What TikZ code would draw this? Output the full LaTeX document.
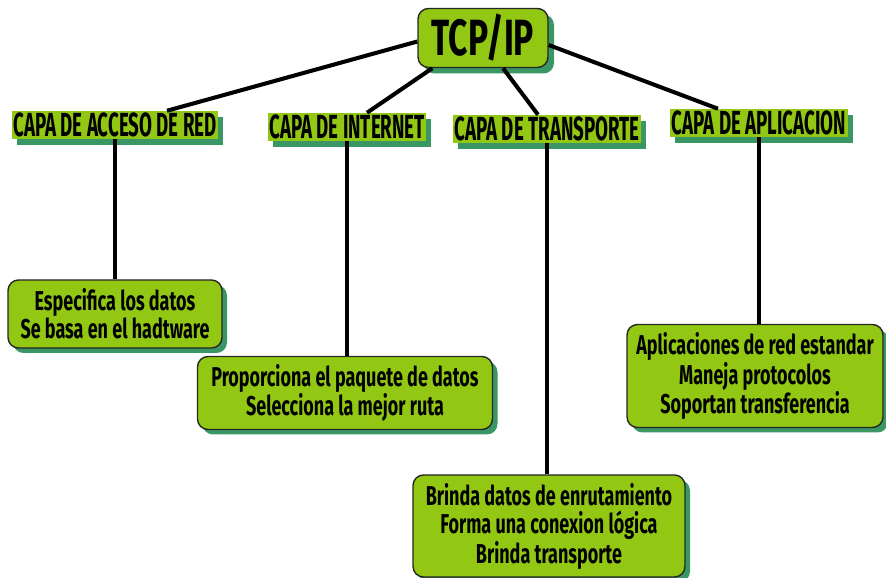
\documentclass[tikz,border=0pt]{standalone}
\usepackage{fontspec}
\setmainfont{Fira Sans}[FakeStretch=0.66]
\newfontfamily\layerfont{Fira Sans}[FakeStretch=0.56]
\usetikzlibrary{shadows}

\definecolor{lime}{RGB}{146,200,20}
\definecolor{shadowgreen}{RGB}{58,150,100}

\begin{document}
\begin{tikzpicture}[
        root/.style={draw=black!85,thick,rounded corners=6pt,fill=lime,minimum width=26mm,minimum height=10mm,
            font=\fontsize{29}{30}\selectfont\bfseries,drop shadow={fill=shadowgreen,opacity=1,shadow xshift=1.2mm,shadow yshift=-1.2mm}},
        layer/.style={fill=lime,inner sep=1pt,minimum height=4mm,font=\layerfont\fontsize{19}{20}\selectfont\bfseries,
            drop shadow={fill=shadowgreen,opacity=1,shadow xshift=1mm,shadow yshift=-1.2mm}},
        duty/.style={draw=black!85,thick,rounded corners=6pt,fill=lime,align=center,
            font=\fontsize{15.5}{16}\selectfont\bfseries,drop shadow={fill=shadowgreen,opacity=1,shadow xshift=1mm,shadow yshift=-1mm}},
        link/.style={line width=2.3pt}
    ]

    \useasboundingbox (0,0) rectangle (17.72,-11.56);

    \node[root] (tcp) at (9.66,-0.76) {TCP/IP};

    \node[layer] (acceso) at (2.30,-2.50) {CAPA DE ACCESO DE RED};
    \node[layer] (internet) at (6.94,-2.54) {CAPA DE INTERNET};
    \node[layer] (transporte) at (10.94,-2.58) {CAPA DE TRANSPORTE};
    \node[layer] (aplicacion) at (15.18,-2.46) {CAPA DE APLICACION};

    \node[duty,minimum width=42.8mm,minimum height=13.6mm] (datos) at (2.30,-6.28)
        {Especifica los datos\\Se basa en el hadtware};
    \node[duty,minimum width=59mm,minimum height=14.6mm] (paquete) at (6.90,-7.86)
        {Proporciona el paquete de datos\\Selecciona la mejor ruta};
    \node[duty,minimum width=51.2mm,minimum height=20.6mm] (red) at (15.10,-7.52)
        {Aplicaciones de red estandar\\Maneja protocolos\\Soportan transferencia};
    \node[duty,minimum width=54.4mm,minimum height=20.4mm] (ruta) at (10.98,-10.52)
        {Brinda datos de enrutamiento\\Forma una conexion lógica\\Brinda transporte};

    \draw[link] ([yshift=-2pt]tcp.west) -- ([xshift=10.4mm]acceso.north);
    \draw[link] ([xshift=3mm]tcp.south west) -- ([xshift=4mm]internet.north);
    \draw[link] ([xshift=4mm]tcp.south) -- ([xshift=-1.8mm]transporte.north);
    \draw[link] ([yshift=-4pt]tcp.east) -- ([xshift=-8.2mm]aplicacion.north);

    \draw[link] (acceso.south) -- (acceso.south |- datos.north);
    \draw[link] (internet.south) -- (internet.south |- paquete.north);
    \draw[link] (transporte.south) -- (transporte.south |- ruta.north);
    \draw[link] (aplicacion.south) -- (aplicacion.south |- red.north);

    \end{tikzpicture}
\end{document}
